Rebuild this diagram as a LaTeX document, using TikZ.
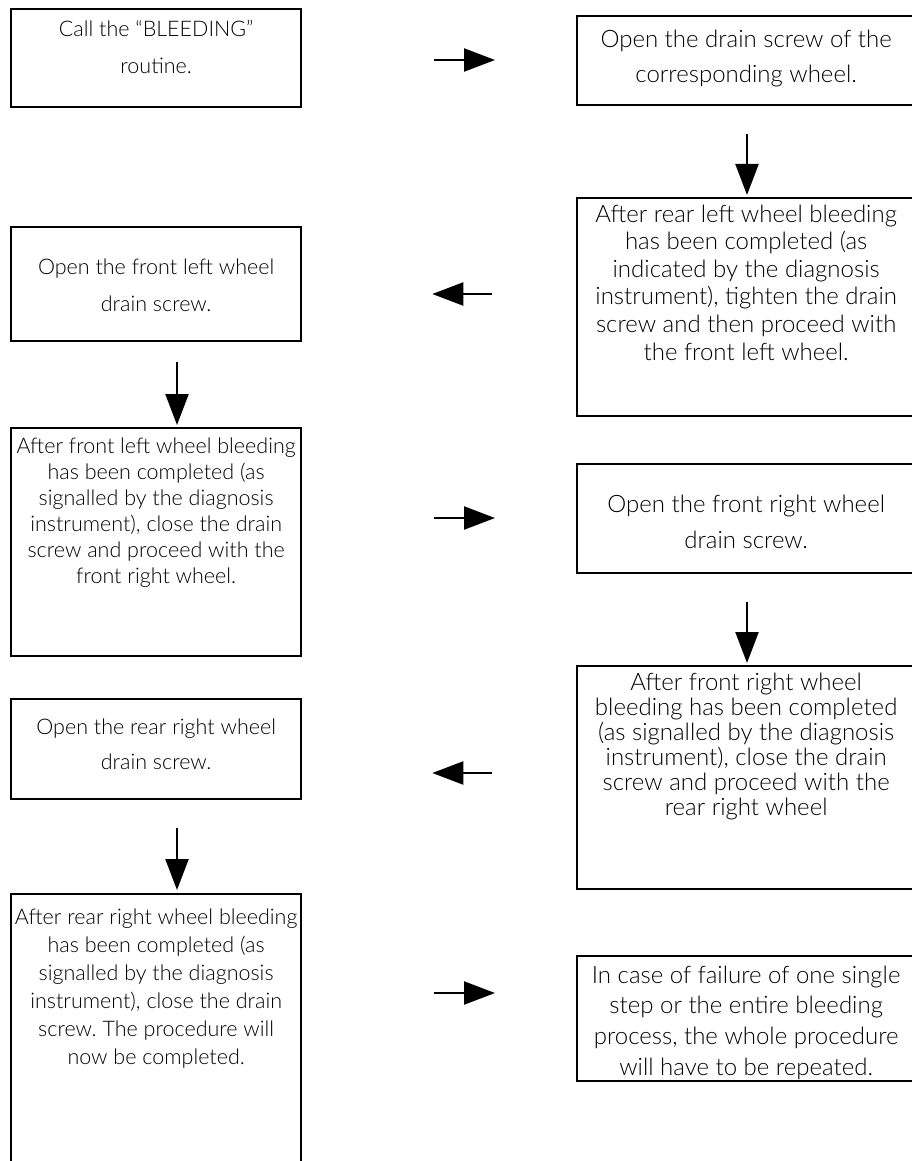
\documentclass[tikz,border=0pt]{standalone}
\usepackage{fontspec}
\setmainfont{Lato Light}
\frenchspacing
\usetikzlibrary{arrows.meta}
% #1 height, #2 width, #3 first baseline below the top, #4 line spacing, #5 font size, #6 text
\newcommand{\boxbody}[6]{\parbox[c][#1][t]{#2}{\centering\fontsize{#5}{#4}\selectfont\rule{0pt}{#3}#6}}
\begin{document}
\begin{tikzpicture}[x=1pt,y=-1pt,
  stepbox/.style={draw, line width=2.3pt, inner sep=0pt, anchor=north west},
  arr/.style={line width=2.2pt, -{Triangle[length=31pt,width=23pt]}}]
\useasboundingbox (0,0) rectangle (911,1161);

% left column
\node[stepbox] (b1) at (10,8)   {\boxbody{98pt}{290pt}{27pt}{37pt}{21.5pt}{Call the “BLEEDING”\\ routine.}};
\node[stepbox] (b4) at (10,226) {\boxbody{114pt}{290pt}{47pt}{37pt}{21.5pt}{Open the front left wheel\\ drain screw.}};
\node[stepbox] (b5) at (10,427) {\boxbody{228pt}{290pt}{25pt}{26pt}{21.5pt}{After front left wheel bleeding\\ has been completed (as\\ signalled by the diagnosis\\ instrument), close the drain\\ screw and proceed with the\\ front right wheel.}};
\node[stepbox] (b8) at (10,698) {\boxbody{100pt}{290pt}{35pt}{35pt}{21.5pt}{Open the rear right wheel\\ drain screw.}};
\node[stepbox] (b9) at (10,893) {\boxbody{300pt}{290pt}{30pt}{28pt}{21.5pt}{After rear right wheel bleeding\\ has been completed (as\\ signalled by the diagnosis\\ instrument), close the drain\\ screw. The procedure will\\ now be completed.}};

% right column
\node[stepbox] (b2) at (576,15)  {\boxbody{89pt}{338pt}{31pt}{35pt}{24pt}{Open the drain screw of the\\ corresponding wheel.}};
\node[stepbox] (b3) at (576,197) {\boxbody{218pt}{338pt}{24pt}{27.6pt}{24pt}{After rear left wheel bleeding\\ has been completed (as\\ indicated by the diagnosis\\ instrument), tighten the drain\\ screw and then proceed with\\ the front left wheel.}};
\node[stepbox] (b6) at (576,463) {\boxbody{109pt}{338pt}{48pt}{36pt}{24pt}{Open the front right wheel\\ drain screw.}};
\node[stepbox] (b7) at (576,665) {\boxbody{223pt}{338pt}{24pt}{25pt}{24pt}{After front right wheel\\ bleeding has been completed\\ (as signalled by the diagnosis\\ instrument), close the drain\\ screw and proceed with the\\ rear right wheel}};
\node[stepbox] (b10) at (576,955) {\boxbody{125pt}{338pt}{27pt}{30.7pt}{24pt}{In case of failure of one single\\ step or the entire bleeding\\ process, the whole procedure\\ will have to be repeated.}};

% arrow rows and columns
\coordinate (rA) at (0,60);
\coordinate (rB) at (0,294);
\coordinate (rC) at (0,518);
\coordinate (rD) at (0,773);
\coordinate (rE) at (0,993);
\coordinate (cL) at (177,0);
\coordinate (cR) at (747,0);

\draw[arr, shorten <=132pt, shorten >=81pt] (b1.east |- rA) -- (b2.west |- rA);
\draw[arr, shorten <=28pt, shorten >=2pt] (cR |- b2.south) -- (cR |- b3.north);
\draw[arr, shorten <=84pt, shorten >=130pt] (b3.west |- rB) -- (b4.east |- rB);
\draw[arr, shorten <=20pt, shorten >=2pt] (cL |- b4.south) -- (cL |- b5.north);
\draw[arr, shorten <=132pt, shorten >=81pt] (b5.east |- rC) -- (b6.west |- rC);
\draw[arr, shorten <=28pt, shorten >=2pt] (cR |- b6.south) -- (cR |- b7.north);
\draw[arr, shorten <=84pt, shorten >=130pt] (b7.west |- rD) -- (b8.east |- rD);
\draw[arr, shorten <=28pt, shorten >=3pt] (cL |- b8.south) -- (cL |- b9.north);
\draw[arr, shorten <=132pt, shorten >=81pt] (b9.east |- rE) -- (b10.west |- rE);
\end{tikzpicture}
\end{document}
